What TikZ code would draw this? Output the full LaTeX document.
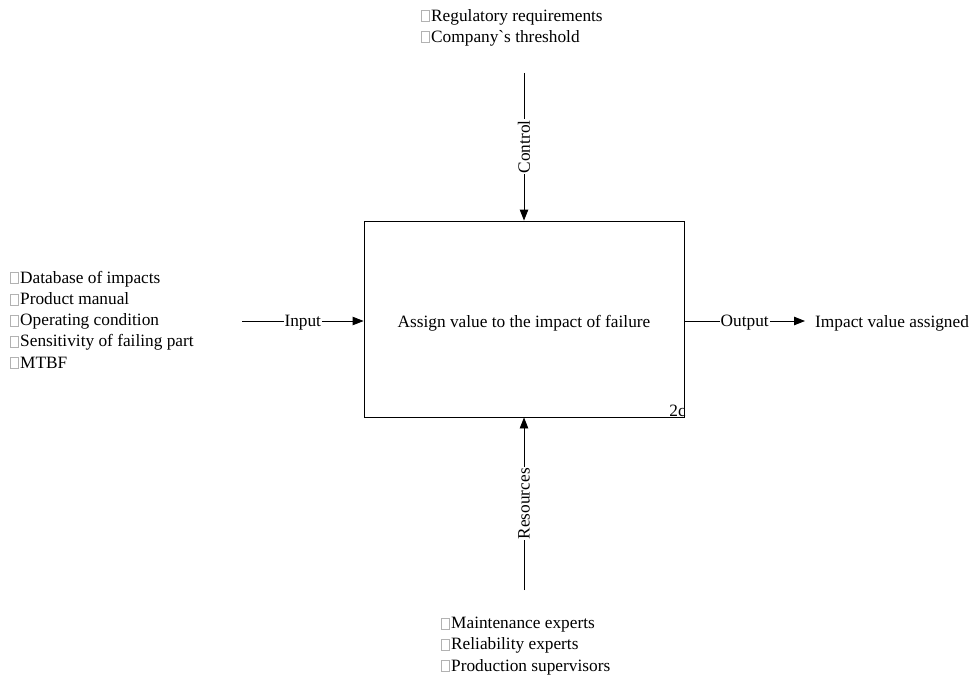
\documentclass[tikz,border=0pt]{standalone}
\usepackage{fontspec}
\setmainfont{Liberation Serif}
\usetikzlibrary{arrows.meta}
\newcommand\sqbox{{\color{gray!60}\setlength{\fboxsep}{0pt}\setlength{\fboxrule}{0.5pt}\fbox{\rule{0pt}{10.5pt}\hspace{7.5pt}}}\hspace{1.5pt}}
\begin{document}
\begin{tikzpicture}[x=1pt,y=-1pt,
  every node/.style={font=\fontsize{17.3}{21.2}\selectfont},
  arr/.style={line width=0.9pt,-{Triangle[length=11pt,width=8.5pt]}},
  lbl/.style={fill=white,inner sep=1pt},
  lst/.style={align=left,inner sep=0pt,anchor=north west},
  fn/.style={draw,line width=0.9pt,minimum width=320pt,minimum height=196pt,inner sep=0pt}]
\useasboundingbox (0,0) rectangle (972,677);
\node[fn] (box) at (524,319) {};
\node[inner sep=0pt,anchor=base] (ttl) at (524,327) {Assign value to the impact of failure};
\node[inner sep=0pt,anchor=base east] (id) at (686,416) {2c};
\coordinate (ctop) at (524,73);
\coordinate (rbot) at (524,590);
\coordinate (iin) at (242,321);
\coordinate (oout) at (805,321);
\draw[arr] (ctop) -- node[lbl,rotate=90] (clbl) {Control} (box.north);
\draw[arr] (rbot) -- node[lbl,rotate=90] (rlbl) {Resources} (box.south);
\draw[arr] (iin) -- node[lbl,yshift=-1.5pt] (ilbl) {Input} (iin -| box.west);
\draw[arr] (oout -| box.east) -- node[lbl,yshift=-1.5pt] (olbl) {Output} (oout);
\node[inner sep=0pt,anchor=base west] (out) at (815,327) {Impact value assigned};
\node[lst] (ctl) at (421,9) {\sqbox Regulatory requirements\\\sqbox Company\textasciigrave s threshold};
\node[lst] (inp) at (10,271) {\sqbox Database of impacts\\\sqbox Product manual\\\sqbox Operating condition\\\sqbox Sensitivity of failing part\\\sqbox MTBF};
\node[lst] (res) at (441,617) {\sqbox Maintenance experts\\\sqbox Reliability experts\\\sqbox Production supervisors};
\end{tikzpicture}
\end{document}
